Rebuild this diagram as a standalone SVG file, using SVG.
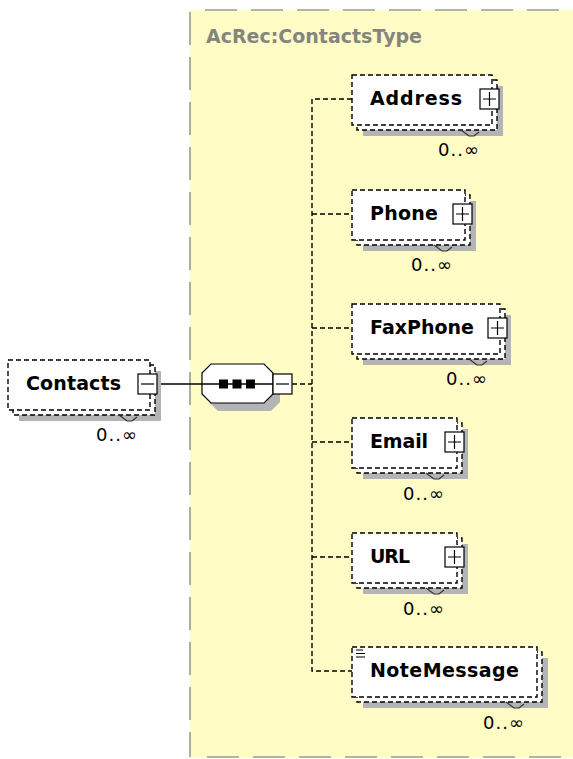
<svg xmlns="http://www.w3.org/2000/svg" width="573" height="759" viewBox="0 0 573 759">
<style>
.bg{fill:#fff}
.ybox{fill:#FFFCC5;stroke:none}
.yb{fill:none;stroke:#9a9a92;stroke-width:1.6}
.shadow{fill:#b4b4b4;stroke:none}
.el{fill:#fff;stroke:#000;stroke-width:1.4;stroke-dasharray:5 3}
.btn{fill:#fff;stroke:#000;stroke-width:1.2}
.btnl{stroke:#000;stroke-width:1.2;fill:none}
.name{font-family:"DejaVu Sans",Verdana,sans-serif;font-weight:bold;font-size:19px;fill:#000}
.occ{font-family:"DejaVu Sans",sans-serif;font-size:18px;fill:#000}
.notch{fill:none;stroke:#333;stroke-width:1.2}
.conn{fill:none;stroke:#000;stroke-width:1.4;stroke-dasharray:5 3}
.solid{fill:none;stroke:#000;stroke-width:1.4}
.hdr{font-family:"DejaVu Sans",Verdana,sans-serif;font-weight:bold;font-size:19px;fill:#858580}
</style>
<rect class="bg" x="0" y="0" width="573" height="759"/>
<g id="complexType">
<rect class="ybox" x="190" y="10" width="383" height="748"/>
<line class="yb" x1="205" y1="10" x2="573" y2="10" stroke-dasharray="32 14"/>
<line class="yb" x1="190" y1="12" x2="190" y2="757" stroke-dasharray="33 12"/>
<line class="yb" x1="207" y1="757" x2="573" y2="757" stroke-dasharray="32 14"/>
<text class="hdr" x="206" y="43">AcRec:ContactsType</text>
</g>
<g id="connectors">
<line class="solid" x1="157" y1="384" x2="273" y2="384"/>
<path class="conn" d="M292 384 H312"/>
<path class="conn" d="M352 99 H312 V671 H352"/>
<path class="conn" d="M312 214 H352 M312 328 H352 M312 442 H352 M312 557 H352"/>
</g>
<g id="Contacts">
<rect class="shadow" x="19" y="371" width="142" height="50"/>
<rect class="el" x="13" y="365" width="142" height="50"/>
<rect class="el" x="8" y="360" width="142" height="50"/>
<text class="name" x="26" y="390" textLength="95">Contacts</text>
<rect class="btn" x="138" y="374" width="19" height="20"/>
<line class="btnl" x1="141" y1="384" x2="154" y2="384"/>
<polyline class="notch" points="119,415 127,421 132,421 137,417"/>
<text class="occ" x="96" y="441" textLength="41">0..∞</text>
</g>
<g id="sequence">
<polygon class="shadow" points="218,372 271,372 280,381 280,402 271,411 218,411 209,402 209,381"/>
<polygon fill="#fff" stroke="#000" stroke-width="1.2" points="211,364 264,364 273,373 273,394 264,403 211,403 202,394 202,373"/>
<line class="solid" x1="202" y1="384" x2="273" y2="384"/>
<rect x="219" y="379.5" width="9" height="9" fill="#000"/>
<rect x="232.5" y="379.5" width="9" height="9" fill="#000"/>
<rect x="246" y="379.5" width="9" height="9" fill="#000"/>
<rect class="btn" x="273" y="374" width="19" height="20"/>
<line class="btnl" x1="276" y1="384" x2="289" y2="384"/>
</g>
<g id="Address">
<rect class="shadow" x="363" y="86" width="140" height="50"/>
<rect class="el" x="357" y="80" width="140" height="50"/>
<rect class="el" x="352" y="75" width="140" height="50"/>
<text class="name" x="370" y="105" textLength="92">Address</text>
<rect class="btn" x="480" y="89" width="19" height="20"/>
<path class="btnl" d="M483 99 H496 M489.5 92 V106"/>
<polyline class="notch" points="461,130 469,136 474,136 479,132"/>
<text class="occ" x="438" y="156" textLength="41">0..∞</text>
</g>
<g id="Phone">
<rect class="shadow" x="363" y="201" width="113" height="50"/>
<rect class="el" x="357" y="195" width="113" height="50"/>
<rect class="el" x="352" y="190" width="113" height="50"/>
<text class="name" x="370" y="220" textLength="68">Phone</text>
<rect class="btn" x="453" y="204" width="19" height="20"/>
<path class="btnl" d="M456 214 H469 M462.5 207 V221"/>
<polyline class="notch" points="434,245 442,251 447,251 452,247"/>
<text class="occ" x="411" y="271" textLength="41">0..∞</text>
</g>
<g id="FaxPhone">
<rect class="shadow" x="363" y="315" width="148" height="50"/>
<rect class="el" x="357" y="309" width="148" height="50"/>
<rect class="el" x="352" y="304" width="148" height="50"/>
<text class="name" x="370" y="334" textLength="104">FaxPhone</text>
<rect class="btn" x="488" y="318" width="19" height="20"/>
<path class="btnl" d="M491 328 H504 M497.5 321 V335"/>
<polyline class="notch" points="469,359 477,365 482,365 487,361"/>
<text class="occ" x="446" y="385" textLength="41">0..∞</text>
</g>
<g id="Email">
<rect class="shadow" x="363" y="429" width="105" height="50"/>
<rect class="el" x="357" y="423" width="105" height="50"/>
<rect class="el" x="352" y="418" width="105" height="50"/>
<text class="name" x="370" y="448" textLength="58">Email</text>
<rect class="btn" x="445" y="432" width="19" height="20"/>
<path class="btnl" d="M448 442 H461 M454.5 435 V449"/>
<polyline class="notch" points="426,473 434,479 439,479 444,475"/>
<text class="occ" x="403" y="500" textLength="41">0..∞</text>
</g>
<g id="URL">
<rect class="shadow" x="363" y="544" width="105" height="50"/>
<rect class="el" x="357" y="538" width="105" height="50"/>
<rect class="el" x="352" y="533" width="105" height="50"/>
<text class="name" x="370" y="563" textLength="40">URL</text>
<rect class="btn" x="445" y="547" width="19" height="20"/>
<path class="btnl" d="M448 557 H461 M454.5 550 V564"/>
<polyline class="notch" points="426,588 434,594 439,594 444,590"/>
<text class="occ" x="403" y="615" textLength="41">0..∞</text>
</g>
<g id="NoteMessage">
<rect class="shadow" x="363" y="658" width="185" height="50"/>
<rect class="el" x="357" y="652" width="185" height="50"/>
<rect class="el" x="352" y="647" width="185" height="50"/>
<path d="M356 650 H363 M356 653.5 H365 M356 657 H365" stroke="#000" stroke-width="1.1" fill="none"/>
<text class="name" x="370" y="677" textLength="149">NoteMessage</text>
<polyline class="notch" points="506,702 514,708 519,708 524,704"/>
<text class="occ" x="483" y="729" textLength="41">0..∞</text>
</g>
</svg>
